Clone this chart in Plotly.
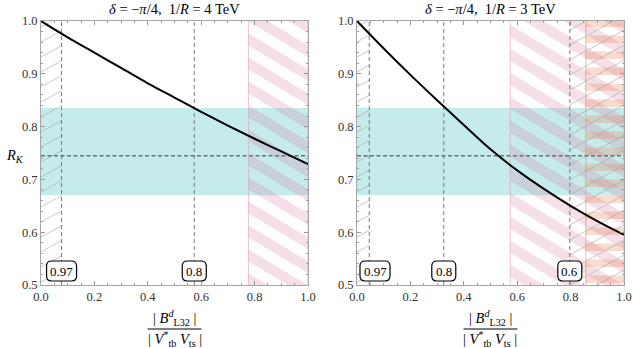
import plotly.graph_objects as go

# ---------------- data ----------------
x_vals = [0.0, 0.1, 0.2, 0.3, 0.4, 0.5, 0.6, 0.7, 0.8, 0.9, 1.0]
rk_left = [1.000, 0.969, 0.940, 0.911, 0.882, 0.855, 0.828, 0.802, 0.777, 0.753, 0.729]   # 1/R = 4 TeV
rk_right = [1.000, 0.948, 0.898, 0.850, 0.803, 0.757, 0.717, 0.682, 0.650, 0.621, 0.595]  # 1/R = 3 TeV

band_lo, band_hi, band_mid = 0.670, 0.835, 0.745

left_dashed = [0.077, 0.574]
left_labels = ["0.97", "0.8"]
right_dashed = [0.046, 0.325, 0.797]
right_labels = ["0.97", "0.8", "0.6"]

left_pink = [(0.777, 1.0)]
right_pink = [(0.574, 1.0)]
right_orange = [(0.857, 1.0)]
left_hatch = [(0.0, 0.077)]
right_hatch = [(0.0, 0.046), (0.797, 1.0)]

inv_R = ["4", "3"]

x_ticks = [0.0, 0.2, 0.4, 0.6, 0.8, 1.0]
y_ticks = [0.5, 0.6, 0.7, 0.8, 0.9, 1.0]
label_y = 0.5265

# ---------------- geometry ----------------
W, H = 633, 348
PLOT_TOP, PLOT_BOT = 21, 285
PANELS = [(41, 308), (357, 624)]
PW = 267.0
PH = float(PLOT_BOT - PLOT_TOP)
XR = (0.0, 1.0)
YR = (0.5, 1.0)
SX = PW / (XR[1] - XR[0])
SY = PH / (YR[1] - YR[0])

SERIF = "Liberation Serif"


def clip_poly(pts, xmin, xmax, ymin, ymax):
    def edge(pts, inside, inter):
        out = []
        n = len(pts)
        for i in range(n):
            cur, prev = pts[i], pts[i - 1]
            if inside(cur):
                if not inside(prev):
                    out.append(inter(prev, cur))
                out.append(cur)
            elif inside(prev):
                out.append(inter(prev, cur))
        return out

    def ix(a, b, xc):
        t = (xc - a[0]) / (b[0] - a[0])
        return (xc, a[1] + t * (b[1] - a[1]))

    def iy(a, b, yc):
        t = (yc - a[1]) / (b[1] - a[1])
        return (a[0] + t * (b[0] - a[0]), yc)

    tests = [
        (lambda p: p[0] >= xmin, lambda a, b: ix(a, b, xmin)),
        (lambda p: p[0] <= xmax, lambda a, b: ix(a, b, xmax)),
        (lambda p: p[1] >= ymin, lambda a, b: iy(a, b, ymin)),
        (lambda p: p[1] <= ymax, lambda a, b: iy(a, b, ymax)),
    ]
    for inside, inter in tests:
        if not pts:
            break
        pts = edge(pts, inside, inter)
    return pts


def to_data(px, py):
    return XR[0] + px / SX, YR[0] + py / SY


def stripes(x0, x1, m, period, thick, phase=0.0):
    """Filled stripe polygons (pixel space, y up) clipped to [x0,x1] x full height."""
    X0, X1 = (x0 - XR[0]) * SX, (x1 - XR[0]) * SX
    Y0, Y1 = 0.0, PH
    xa, xb = X0 - 5, X1 + 5
    cmin = Y0 - max(m * xa, m * xb) - thick - period
    cmax = Y1 - min(m * xa, m * xb) + period
    k0 = int((cmin - phase) // period)
    xs, ys = [], []
    c = phase + k0 * period
    while c <= cmax:
        poly = [(xa, m * xa + c), (xb, m * xb + c), (xb, m * xb + c + thick), (xa, m * xa + c + thick)]
        cp = clip_poly(poly, X0, X1, Y0, Y1)
        if len(cp) >= 3:
            for (px, py) in cp + [cp[0]]:
                dx, dy = to_data(px, py)
                xs.append(dx)
                ys.append(dy)
            xs.append(None)
            ys.append(None)
        c += period
    return xs, ys


def hatch_lines(x0, x1, m, period, phase=0.0):
    X0, X1 = (x0 - XR[0]) * SX, (x1 - XR[0]) * SX
    Y0, Y1 = 0.0, PH
    xs, ys = [], []
    cmin = Y0 - m * X1 - period
    cmax = Y1 - m * X0 + period
    k0 = int((cmin - phase) // period)
    c = phase + k0 * period
    while c <= cmax:
        lo = max(X0, (Y0 - c) / m)
        hi = min(X1, (Y1 - c) / m)
        if hi > lo:
            for px in (lo, hi):
                dx, dy = to_data(px, m * px + c)
                xs.append(dx)
                ys.append(dy)
            xs.append(None)
            ys.append(None)
        c += period
    return xs, ys


def rounded_path(w, h, r):
    a, b = w / 2.0, h / 2.0
    return (f"M {-a + r},{-b} L {a - r},{-b} Q {a},{-b} {a},{-b + r} "
            f"L {a},{b - r} Q {a},{b} {a - r},{b} L {-a + r},{b} Q {-a},{b} {-a},{b - r} "
            f"L {-a},{-b + r} Q {-a},{-b} {-a + r},{-b} Z")


fig = go.Figure()
shapes = []
annotations = []

panels = [
    dict(rk=rk_left, dashed=left_dashed, labels=left_labels, pink=left_pink, orange=[], hatch=left_hatch),
    dict(rk=rk_right, dashed=right_dashed, labels=right_labels, pink=right_pink, orange=right_orange, hatch=right_hatch),
]

for i, p in enumerate(panels):
    xa = "x" if i == 0 else "x2"
    ya = "y" if i == 0 else "y2"

    # cyan band
    shapes.append(dict(type="rect", xref=xa, yref=ya, x0=XR[0], x1=XR[1], y0=band_lo, y1=band_hi,
                       fillcolor="rgb(197,235,235)", line=dict(width=0), layer="below"))

    # pink diagonal stripes
    for (a, b) in p["pink"]:
        sx, sy = stripes(a, b, -0.6, 24.0, 12.0, phase=4.0)
        fig.add_trace(go.Scatter(x=sx, y=sy, xaxis=xa, yaxis=ya, mode="none", fill="toself",
                                 fillcolor="rgba(215,120,160,0.24)", hoverinfo="skip", showlegend=False))
        for xe in (a, b):
            fig.add_trace(go.Scatter(x=[xe, xe], y=[YR[0], YR[1]], xaxis=xa, yaxis=ya, mode="lines",
                                     line=dict(color="rgba(225,160,190,0.6)", width=1),
                                     hoverinfo="skip", showlegend=False))

    # orange horizontal stripes
    for (a, b) in p["orange"]:
        sx, sy = stripes(a, b, 0.0, 16.0, 7.5, phase=2.0)
        fig.add_trace(go.Scatter(x=sx, y=sy, xaxis=xa, yaxis=ya, mode="none", fill="toself",
                                 fillcolor="rgba(232,140,90,0.3)", hoverinfo="skip", showlegend=False))
        fig.add_trace(go.Scatter(x=[a, a], y=[YR[0], YR[1]], xaxis=xa, yaxis=ya, mode="lines",
                                 line=dict(color="rgba(230,150,110,0.7)", width=1),
                                 hoverinfo="skip", showlegend=False))

    # thin grey hatching
    for (a, b) in p["hatch"]:
        hx, hy = hatch_lines(a, b, 0.55, 15.0, phase=3.0)
        fig.add_trace(go.Scatter(x=hx, y=hy, xaxis=xa, yaxis=ya, mode="lines",
                                 line=dict(color="rgb(165,165,165)", width=0.6),
                                 hoverinfo="skip", showlegend=False))

    # vertical dashed lines
    for xd in p["dashed"]:
        fig.add_trace(go.Scatter(x=[xd, xd], y=[YR[0], YR[1]], xaxis=xa, yaxis=ya, mode="lines",
                                 line=dict(color="rgb(120,120,120)", width=1, dash="4px,3px"),
                                 hoverinfo="skip", showlegend=False))

    # horizontal dashed central value
    fig.add_trace(go.Scatter(x=[XR[0], XR[1]], y=[band_mid, band_mid], xaxis=xa, yaxis=ya, mode="lines",
                             line=dict(color="rgb(110,110,115)", width=1.5, dash="4px,2.5px"),
                             hoverinfo="skip", showlegend=False))

    # R_K curve
    fig.add_trace(go.Scatter(x=x_vals, y=p["rk"], xaxis=xa, yaxis=ya, mode="lines",
                             line=dict(color="black", width=2, shape="spline"),
                             hoverinfo="skip", showlegend=False))

    # rounded labels
    for xd, lab in zip(p["dashed"], p["labels"]):
        w = 6 * len(lab) + 6
        xc = max(xd, (w / 2.0 + 3) / SX)
        shapes.append(dict(type="path", xref=xa, yref=ya, xsizemode="pixel", ysizemode="pixel",
                           xanchor=xc, yanchor=label_y, path=rounded_path(w, 20, 5),
                           fillcolor="white", line=dict(color="black", width=1.2), layer="above"))
        annotations.append(dict(x=xc, y=label_y, xref=xa, yref=ya, text=lab, showarrow=False,
                                font=dict(family=SERIF, size=13, color="black"),
                                xanchor="center", yanchor="middle"))

    # title
    cx = (PANELS[i][0] + PANELS[i][1]) / 2.0 / W
    annotations.append(dict(x=cx, y=1 - 9.5 / H, xref="paper", yref="paper",
                            text=f"<i>δ</i> = −<i>π</i>/4,  1/<i>R</i> = {inv_R[i]} TeV",
                            showarrow=False, xanchor="center", yanchor="middle",
                            font=dict(family=SERIF, size=14.5, color="black")))
    # x-axis title as a fraction
    annotations.append(dict(x=cx, y=1 - 318 / H, xref="paper", yref="paper",
                            text="| <i>B</i><sup><i>d</i></sup><sub>L32</sub> |",
                            showarrow=False, xanchor="center", yanchor="middle",
                            font=dict(family=SERIF, size=14.5, color="black")))
    annotations.append(dict(x=cx, y=1 - 338.5 / H, xref="paper", yref="paper",
                            text="| <i>V</i><sup>*</sup><sub>tb</sub> <i>V</i><sub>ts</sub> |",
                            showarrow=False, xanchor="center", yanchor="middle",
                            font=dict(family=SERIF, size=14.5, color="black")))
    shapes.append(dict(type="line", xref="paper", yref="paper",
                       x0=cx - 27 / W, x1=cx + 27 / W, y0=1 - 329 / H, y1=1 - 329 / H,
                       line=dict(color="black", width=1)))

# y-axis title
annotations.append(dict(x=15 / W, y=1 - 156 / H, xref="paper", yref="paper",
                        text="<i>R</i><sub><i>K</i></sub>", showarrow=False,
                        xanchor="center", yanchor="middle",
                        font=dict(family=SERIF, size=14.5, color="black")))

axis_common = dict(
    showgrid=False, zeroline=False, showline=True, linecolor="rgb(165,165,165)", linewidth=1,
    mirror="allticks", ticks="inside", ticklen=4, tickwidth=0.8, tickcolor="rgb(150,150,150)",
    tickfont=dict(family=SERIF, size=12.5, color="rgb(50,50,50)"), automargin=False,
)

ydom = [(H - PLOT_BOT) / H, (H - PLOT_TOP) / H]
layout = dict(
    width=W, height=H, margin=dict(l=0, r=0, t=0, b=0, autoexpand=False),
    paper_bgcolor="white", plot_bgcolor="white", showlegend=False,
    font=dict(family=SERIF),
    shapes=shapes, annotations=annotations,
)
for i, (l, r) in enumerate(PANELS):
    sfx = "" if i == 0 else "2"
    layout["xaxis" + sfx] = dict(axis_common, domain=[l / W, r / W], range=list(XR),
                                 anchor="y" + sfx, tickvals=x_ticks,
                                 ticktext=[f"{v:.1f}" for v in x_ticks],
                                 minor=dict(ticks="inside", dtick=0.05, tick0=0, ticklen=2,
                                            tickcolor="rgb(160,160,160)", showgrid=False))
    layout["yaxis" + sfx] = dict(axis_common, domain=ydom, range=list(YR),
                                 anchor="x" + sfx, tickvals=y_ticks,
                                 ticktext=[f"{v:.1f}" for v in y_ticks],
                                 minor=dict(ticks="inside", dtick=0.02, tick0=0.5, ticklen=2,
                                            tickcolor="rgb(160,160,160)", showgrid=False))

fig.update_layout(**layout)
fig.write_html("out.html", config={"displayModeBar": False},
               post_script="document.body.style.margin='0';document.body.style.padding='0';")
